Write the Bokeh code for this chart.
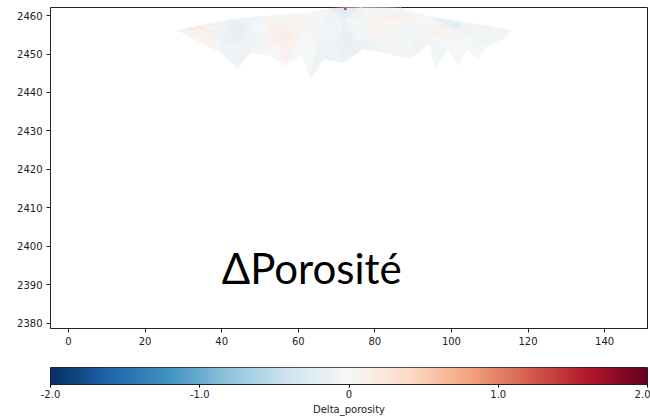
import numpy as np
from bokeh.plotting import figure
from bokeh.layouts import column
from bokeh.models import ColumnDataSource, FixedTicker, LinearColorMapper, Range1d
from bokeh.palettes import RdBu
from bokeh.core.properties import value
from bokeh.embed import file_html
from bokeh.resources import INLINE

# Delta porosity sampled on a mesh: two tips, top edge, two interior rows, jagged bottom edge
tip_x = [28.7, 115.4]
tip_y = [2456.1, 2456.1]
tip_v = [0.25, -0.05]

top_x = [34.5, 42.3, 50.1, 60.6, 68.4, 76.2, 86.7, 94.5, 102.3, 110.2]
top_y = [2457.4, 2459.0, 2459.7, 2460.6, 2461.9, 2462.3, 2462.0, 2459.6, 2458.4, 2457.1]
top_v = [0.20, -0.10, -0.05, 0.10, -0.20, -0.35, 0.30, -0.35, -0.10, -0.05]

upper_x = [34, 37, 42, 47, 52, 57, 62, 67, 72, 77, 82, 87, 92, 97, 102, 107, 110]
upper_y = [2456.3, 2456.1, 2456.6, 2457.0, 2457.4, 2457.7, 2458.2, 2458.7, 2459.0,
           2459.1, 2458.8, 2458.4, 2457.6, 2456.9, 2456.2, 2455.6, 2455.8]
upper_v = [0.20, 0.05, -0.35, -0.15, 0.10, 0.05, -0.10, 0.05, -0.10,
           0.15, 0.10, -0.10, 0.05, 0.25, -0.15, -0.05, -0.05]

lower_x = [40, 45, 50, 55, 60, 65, 70, 75, 80, 85, 90, 94, 100, 106]
lower_y = [2453.0, 2453.2, 2453.3, 2453.0, 2453.5, 2453.0, 2452.5, 2453.5,
           2453.5, 2453.0, 2453.5, 2454.5, 2454.0, 2453.8]
lower_v = [-0.05, -0.10, -0.02, 0.15, 0.20, -0.10, -0.15, -0.20,
           -0.10, 0.05, -0.10, -0.05, 0.05, -0.05]

bottom_x = [31.9, 36.3, 39.7, 44.1, 47.5, 52.7, 56.7, 61.4, 63.2, 66.6, 71.8,
            77.0, 82.2, 89.3, 94.5, 95.8, 99.0, 101.8, 104.2, 106.8, 109.4, 113.6]
bottom_y = [2454.8, 2452.7, 2450.4, 2446.2, 2450.4, 2449.6, 2447.0, 2450.4, 2443.6, 2448.8, 2447.8,
            2451.4, 2450.4, 2448.8, 2453.0, 2446.2, 2451.4, 2447.0, 2451.4, 2448.8, 2452.2, 2454.0]
bottom_v = [0.10, -0.05, -0.10, -0.10, -0.08, -0.05, -0.10, -0.08, -0.12, -0.10, -0.08,
            -0.12, -0.10, -0.10, -0.05, -0.08, -0.05, -0.05, -0.05, -0.03, -0.05, -0.05]

# isolated high value at the crest
spot_x = [72.3]
spot_y = [2461.8]
spot_v = [1.3]

x_ticks = [0, 20, 40, 60, 80, 100, 120, 140]
y_ticks = [2380, 2390, 2400, 2410, 2420, 2430, 2440, 2450, 2460]
cbar_ticks = [-2, -1, 0, 1, 2]
cbar_labels = ["-2.0", "-1.0", "0", "1.0", "2.0"]
vmin, vmax = -2.0, 2.0

# RdBu running blue (low) to red (high), resampled to 256 steps
base = list(RdBu[11])
rgb = np.array([[int(c[i:i + 2], 16) for i in (1, 3, 5)] for c in base], dtype=float)
pos = np.linspace(0, 1, len(base))
fine = np.linspace(0, 1, 256)
palette = ["#%02x%02x%02x" % tuple(int(round(np.interp(f, pos, rgb[:, k]))) for k in range(3))
           for f in fine]
mapper = LinearColorMapper(palette=palette, low=vmin, high=vmax)


def row(xs, ys, vs):
    pts = [(tip_x[0], tip_y[0], tip_v[0])]
    pts += list(zip(xs, ys, vs))
    pts.append((tip_x[1], tip_y[1], tip_v[1]))
    return pts


def strip(upper, lower):
    tris = []
    i = j = 0
    while i < len(upper) - 1 or j < len(lower) - 1:
        if j == len(lower) - 1 or (i < len(upper) - 1 and upper[i + 1][0] <= lower[j + 1][0]):
            tri = (upper[i], lower[j], upper[i + 1])
            i += 1
        else:
            tri = (upper[i], lower[j], lower[j + 1])
            j += 1
        if len({(t[0], t[1]) for t in tri}) == 3:
            tris.append(tri)
    return tris


rows = [row(top_x, top_y, top_v), row(upper_x, upper_y, upper_v),
        row(lower_x, lower_y, lower_v), row(bottom_x, bottom_y, bottom_v)]
tris = []
for a, b in zip(rows[:-1], rows[1:]):
    tris += strip(a, b)

mesh = ColumnDataSource(dict(
    xs=[[t[0] for t in tri] for tri in tris],
    ys=[[t[1] for t in tri] for tri in tris],
    v=[float(np.mean([t[2] for t in tri])) for tri in tris],
))
spot = ColumnDataSource(dict(x=spot_x, y=spot_y, v=spot_v))

FONT = "DejaVu Sans"

p = figure(frame_width=597, frame_height=321, output_backend="svg", toolbar_location=None,
           x_range=Range1d(-4.7, 151.2), y_range=Range1d(2378.6, 2462.1),
           min_border_left=50, min_border_right=3, min_border_top=7, min_border_bottom=0)
p.patches("xs", "ys", source=mesh,
          fill_color={"field": "v", "transform": mapper},
          line_color={"field": "v", "transform": mapper}, line_width=0.6)
p.scatter("x", "y", source=spot, size=3, line_color=None,
          fill_color={"field": "v", "transform": mapper})
p.text(x=[40], y=[2394.4], text=["\u0394Porosit\u00e9"], text_font=value("Lato"),
       text_font_size="42px", text_color="black", text_baseline="alphabetic")

p.grid.visible = False
p.outline_line_color = "#222222"
p.outline_line_width = 1
p.background_fill_color = "white"
p.border_fill_color = "white"
p.xaxis.ticker = FixedTicker(ticks=x_ticks)
p.yaxis.ticker = FixedTicker(ticks=y_ticks)
for ax in (p.xaxis[0], p.yaxis[0]):
    ax.major_label_text_font = FONT
    ax.major_label_text_font_size = "10px"
    ax.major_label_text_color = "#222222"
    ax.major_tick_out = 4
    ax.major_tick_in = 0
    ax.minor_tick_out = 0
    ax.minor_tick_in = 0
    ax.axis_line_color = "#222222"
    ax.major_tick_line_color = "#222222"
    ax.major_label_standoff = 4

# colour bar drawn as its own strip with the shared mapper
cb = figure(frame_width=597, frame_height=17, output_backend="svg", toolbar_location=None,
            x_range=Range1d(vmin, vmax), y_range=Range1d(0, 1),
            min_border_left=50, min_border_right=3, min_border_top=20, min_border_bottom=0)
cb.image(image=[np.linspace(vmin, vmax, 256)[None, :]], x=vmin, y=0, dw=vmax - vmin, dh=1,
         color_mapper=mapper)
cb.grid.visible = False
cb.yaxis.visible = False
cb.outline_line_color = "#222222"
cb.xaxis.ticker = FixedTicker(ticks=cbar_ticks)
cb.xaxis.major_label_overrides = {t: s for t, s in zip(cbar_ticks, cbar_labels)}
cb.xaxis.axis_label = "Delta_porosity"
cb.xaxis.axis_label_text_font = FONT
cb.xaxis.axis_label_text_font_size = "10px"
cb.xaxis.axis_label_text_font_style = "normal"
cb.xaxis.axis_label_text_color = "#222222"
cb.xaxis.axis_label_standoff = 3
cb.xaxis.major_label_text_font = FONT
cb.xaxis.major_label_text_font_size = "10px"
cb.xaxis.major_label_text_color = "#222222"
cb.xaxis.major_label_standoff = 2
cb.xaxis.major_tick_out = 3
cb.xaxis.major_tick_in = 0
cb.xaxis.minor_tick_out = 0
cb.xaxis.axis_line_color = "#222222"

layout = column(p, cb)
open("out.html", "w").write(file_html(layout, INLINE))
